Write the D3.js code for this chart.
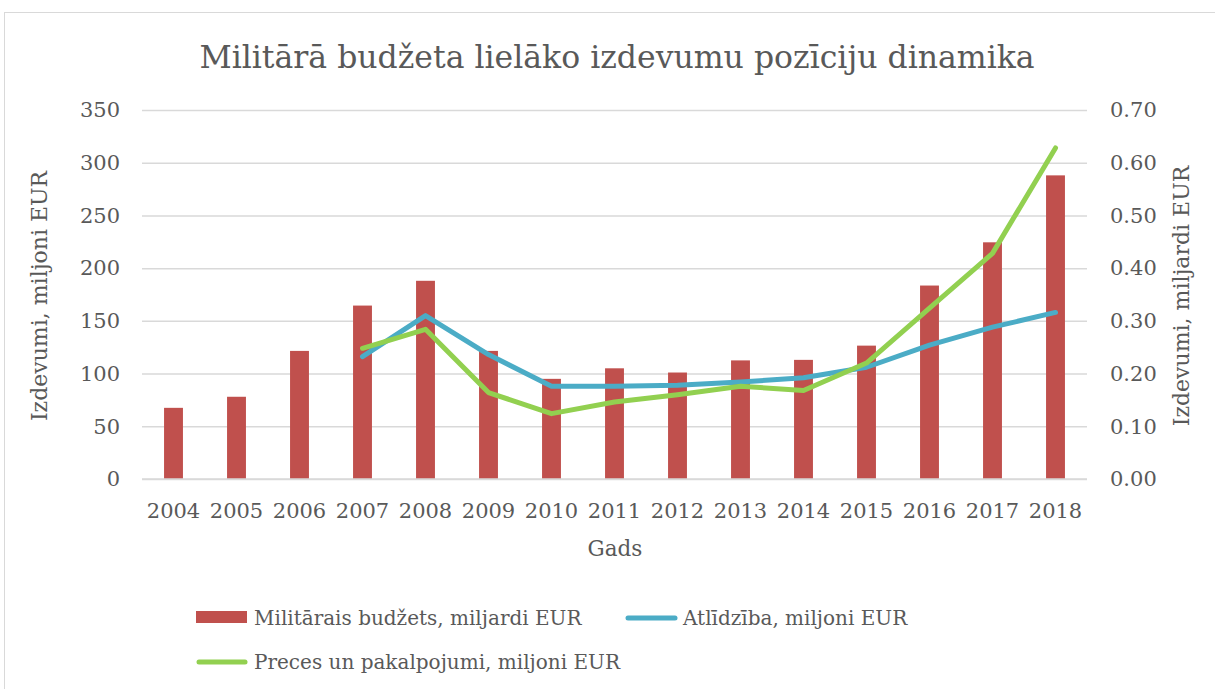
<!DOCTYPE html>
<html>
<head>
<meta charset="utf-8">
<script src="https://cdn.jsdelivr.net/npm/d3@7"></script>
<style>
  body { margin: 0; background: #fff; }
  svg text { font-family: "DejaVu Serif", serif; fill: #595959; }
</style>
</head>
<body>
<svg id="chart" width="1215" height="689"></svg>
<script>
// data
const years = ['2004', '2005', '2006', '2007', '2008', '2009', '2010', '2011', '2012', '2013', '2014', '2015', '2016', '2017', '2018']
const budget = [0.135, 0.156, 0.243, 0.329, 0.376, 0.243, 0.190, 0.210, 0.202, 0.225, 0.226, 0.253, 0.367, 0.449, 0.576]
const atlidziba = [null, null, null, 116, 155, 118, 88, 88, 89, 92, 96, 106, 127, 144, 158]
const preces = [null, null, null, 124, 142, 82, 62, 73, 80, 88, 84, 110, 162, 214, 314]
const leftTicks = [0, 50, 100, 150, 200, 250, 300, 350]
const rightTicks = [0, 0.1, 0.2, 0.3, 0.4, 0.5, 0.6, 0.7]

const svg = d3.select('#chart')
const margin = { top: 110, right: 128, bottom: 210, left: 142 }
const width = 1215 - margin.left - margin.right
const height = 689 - margin.top - margin.bottom

// chart frame
svg.append('rect')
    .attr('x', 4.5).attr('y', 12.5)
    .attr('width', 1230).attr('height', 700)
    .attr('fill', 'none')
    .attr('stroke', '#d9d9d9')

const g = svg.append('g').attr('transform', `translate(${margin.left},${margin.top})`)

const x = d3.scaleBand().domain(years).range([0, width]).paddingInner(0.70).paddingOuter(0.35)
const yL = d3.scaleLinear().domain([0, 350]).range([height, 0])
const yR = d3.scaleLinear().domain([0, 0.7]).range([height, 0])

// gridlines
g.append('g')
    .call(d3.axisLeft(yL).tickValues(leftTicks).tickSize(-width).tickFormat(''))
    .call(a => a.select('.domain').remove())
    .selectAll('line')
    .attr('stroke', '#d9d9d9')
    .attr('stroke-width', 1.5)

// left ticks
g.append('g')
    .call(d3.axisLeft(yL).tickValues(leftTicks).tickSize(0).tickPadding(22))
    .call(a => a.select('.domain').remove())
    .selectAll('text')
    .attr('font-size', 21)

// right ticks
g.append('g')
    .attr('transform', `translate(${width},0)`)
    .call(d3.axisRight(yR).tickValues(rightTicks).tickSize(0).tickPadding(23).tickFormat(d3.format('.2f')))
    .call(a => a.select('.domain').remove())
    .selectAll('text')
    .attr('font-size', 21)

// x ticks
g.append('g')
    .attr('transform', `translate(0,${height})`)
    .call(d3.axisBottom(x).tickSize(0).tickPadding(24))
    .call(a => a.select('.domain').remove())
    .selectAll('text')
    .attr('font-size', 21)

// bars (miljardi, right axis)
g.selectAll('.bar')
    .data(years)
    .enter()
    .append('rect')
    .attr('class', 'bar')
    .attr('x', d => x(d))
    .attr('width', x.bandwidth())
    .attr('y', (d, i) => yR(budget[i]))
    .attr('height', (d, i) => height - yR(budget[i]))
    .attr('fill', '#c0504d')

const cx = d => x(d) + x.bandwidth() / 2
const line = d3.line()
    .defined(d => d[1] !== null)
    .x(d => cx(d[0]))
    .y(d => yL(d[1]))

g.append('path')
    .datum(years.map((d, i) => [d, atlidziba[i]]))
    .attr('d', line)
    .attr('fill', 'none')
    .attr('stroke', '#4bacc6')
    .attr('stroke-width', 5)
    .attr('stroke-linecap', 'round')
    .attr('stroke-linejoin', 'round')

g.append('path')
    .datum(years.map((d, i) => [d, preces[i]]))
    .attr('d', line)
    .attr('fill', 'none')
    .attr('stroke', '#92d050')
    .attr('stroke-width', 5)
    .attr('stroke-linecap', 'round')
    .attr('stroke-linejoin', 'round')

// axis line at zero
g.append('line')
    .attr('x1', 0).attr('x2', width)
    .attr('y1', height).attr('y2', height)
    .attr('stroke', '#d9d9d9')
    .attr('stroke-width', 1.5)

// titles
svg.append('text')
    .attr('x', 617).attr('y', 68)
    .attr('text-anchor', 'middle')
    .attr('font-size', 31.5)
    .text('Militārā budžeta lielāko izdevumu pozīciju dinamika')

svg.append('text')
    .attr('x', 615).attr('y', 556)
    .attr('text-anchor', 'middle')
    .attr('font-size', 21.5)
    .text('Gads')

svg.append('text')
    .attr('transform', 'translate(47,296) rotate(-90)')
    .attr('text-anchor', 'middle')
    .attr('font-size', 22)
    .text('Izdevumi, miljoni EUR')

svg.append('text')
    .attr('transform', 'translate(1189,296) rotate(-90)')
    .attr('text-anchor', 'middle')
    .attr('font-size', 22)
    .text('Izdevumi, miljardi EUR')

// legend
const legend = svg.append('g')
legend.append('rect')
    .attr('x', 196).attr('y', 611)
    .attr('width', 51).attr('height', 12)
    .attr('fill', '#c0504d')
legend.append('text')
    .attr('x', 254).attr('y', 625)
    .attr('font-size', 20)
    .text('Militārais budžets, miljardi EUR')

legend.append('line')
    .attr('x1', 628).attr('x2', 675).attr('y1', 618).attr('y2', 618)
    .attr('stroke', '#4bacc6').attr('stroke-width', 5).attr('stroke-linecap', 'round')
legend.append('text')
    .attr('x', 683).attr('y', 625)
    .attr('font-size', 20)
    .text('Atlīdzība, miljoni EUR')

legend.append('line')
    .attr('x1', 199).attr('x2', 245).attr('y1', 662).attr('y2', 662)
    .attr('stroke', '#92d050').attr('stroke-width', 5).attr('stroke-linecap', 'round')
legend.append('text')
    .attr('x', 254).attr('y', 669)
    .attr('font-size', 20)
    .text('Preces un pakalpojumi, miljoni EUR')
</script>
</body>
</html>
